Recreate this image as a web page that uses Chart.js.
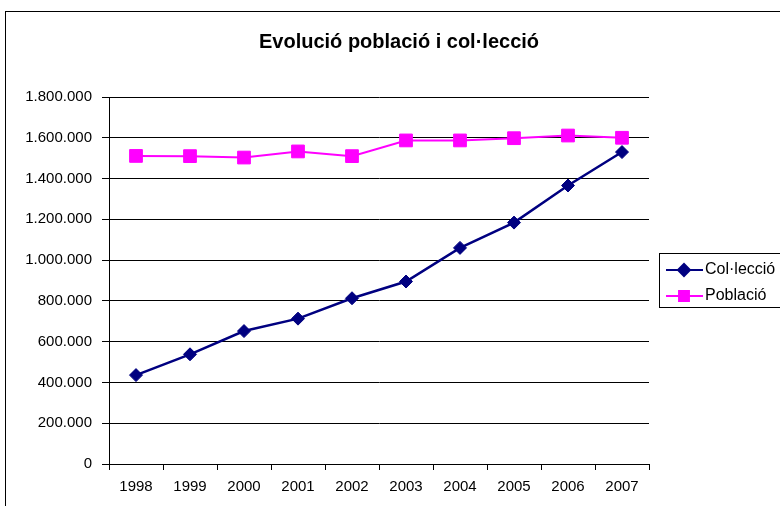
<!DOCTYPE html>
<html lang="ca">
<head>
    <meta charset="UTF-8">
    <title>Evolució població i col·lecció</title>
    <style>
        html, body {
            margin: 0;
            padding: 0;
            background: #fff;
            overflow: hidden;
        }
        #wrap {
            width: 780px;
            height: 506px;
            position: relative;
        }
    </style>
    <script src="https://cdn.jsdelivr.net/npm/chart.js"></script>
</head>
<body>
    <div id="wrap">
        <canvas id="chart" width="780" height="506"></canvas>
    </div>

    <script>
        const chartTitle = 'Evolució població i col·lecció';
        const years = ['1998', '1999', '2000', '2001', '2002', '2003', '2004', '2005', '2006', '2007'];
        const colleccio = [436000, 538000, 652000, 713000, 813000, 895000, 1060000, 1184000, 1366000, 1530000];
        const poblacio = [1511000, 1510000, 1503000, 1533000, 1510000, 1587000, 1587000, 1598000, 1611000, 1600000];
        const yTicks = [0, 200000, 400000, 600000, 800000, 1000000, 1200000, 1400000, 1600000, 1800000];

        const FONT = 'Arial, "Liberation Sans", sans-serif';

        function formatThousands(v) {
            return String(v).replace(/\B(?=(\d{3})+(?!\d))/g, '.');
        }

        // outer frame + title + boxed legend like the spreadsheet original
        const decorations = {
            id: 'decorations',
            beforeDraw(chart) {
                const ctx = chart.ctx;
                ctx.save();
                ctx.strokeStyle = '#000';
                ctx.lineWidth = 1;
                ctx.strokeRect(5.5, 11.5, 900, 700);
                ctx.restore();
            },
            afterDraw(chart) {
                const ctx = chart.ctx;
                ctx.save();
                ctx.fillStyle = '#000';
                ctx.font = 'bold 20px ' + FONT;
                ctx.textAlign = 'center';
                ctx.textBaseline = 'middle';
                ctx.fillText(chartTitle, 399, 42);

                // legend
                ctx.fillStyle = '#fff';
                ctx.fillRect(659.5, 253.5, 140, 54);
                ctx.strokeStyle = '#000';
                ctx.lineWidth = 1;
                ctx.strokeRect(659.5, 253.5, 140, 54);

                chart.data.datasets.forEach((ds, i) => {
                    const y = 270 + i * 26;
                    ctx.strokeStyle = ds.borderColor;
                    ctx.lineWidth = 2;
                    ctx.beginPath();
                    ctx.moveTo(666, y);
                    ctx.lineTo(703, y);
                    ctx.stroke();
                    ctx.fillStyle = ds.backgroundColor;
                    Chart.helpers.drawPoint(ctx, {
                        pointStyle: ds.pointStyle,
                        radius: ds.pointStyle === 'rect' ? 7 : 6,
                        borderWidth: 1
                    }, 684, y);
                    ctx.fillStyle = '#000';
                    ctx.font = '16px ' + FONT;
                    ctx.textAlign = 'left';
                    ctx.textBaseline = 'middle';
                    ctx.fillText(ds.label, 705, y);
                });
                ctx.restore();
            }
        };

        new Chart(document.getElementById('chart'), {
            type: 'line',
            data: {
                labels: years,
                datasets: [{
                    label: 'Col·lecció',
                    data: colleccio,
                    borderColor: '#000080',
                    backgroundColor: '#000080',
                    borderWidth: 2.5,
                    pointStyle: 'rectRot',
                    pointRadius: 6.5,
                    pointHoverRadius: 6.5,
                    pointBorderWidth: 1,
                    tension: 0
                }, {
                    label: 'Població',
                    data: poblacio,
                    borderColor: '#ff00ff',
                    backgroundColor: '#ff00ff',
                    borderWidth: 2,
                    pointStyle: 'rect',
                    pointRadius: 9,
                    pointHoverRadius: 9,
                    pointBorderWidth: 1,
                    tension: 0
                }]
            },
            options: {
                responsive: false,
                animation: false,
                layout: {
                    padding: { top: 97, right: 131, bottom: 0, left: 0 }
                },
                plugins: {
                    legend: { display: false },
                    title: { display: false },
                    tooltip: { enabled: false }
                },
                scales: {
                    x: {
                        offset: true,
                        afterFit(scale) { scale.height = 42; },
                        grid: {
                            offset: true,
                            drawOnChartArea: false,
                            drawTicks: true,
                            tickLength: 6,
                            color: '#000'
                        },
                        border: { display: true, color: '#000', width: 1 },
                        ticks: {
                            color: '#000',
                            font: { family: FONT, size: 15 },
                            padding: 8,
                            maxRotation: 0
                        }
                    },
                    y: {
                        min: 0,
                        max: 1800000,
                        afterFit(scale) { scale.width = 109; },
                        afterBuildTicks(scale) {
                            scale.ticks = yTicks.map(v => ({ value: v }));
                        },
                        grid: {
                            color: '#000',
                            lineWidth: 1,
                            drawTicks: true,
                            tickLength: 7
                        },
                        border: { display: true, color: '#000', width: 1 },
                        ticks: {
                            color: '#000',
                            font: { family: FONT, size: 15 },
                            padding: 10,
                            callback: v => formatThousands(v)
                        }
                    }
                }
            },
            plugins: [decorations]
        });
    </script>
</body>
</html>
